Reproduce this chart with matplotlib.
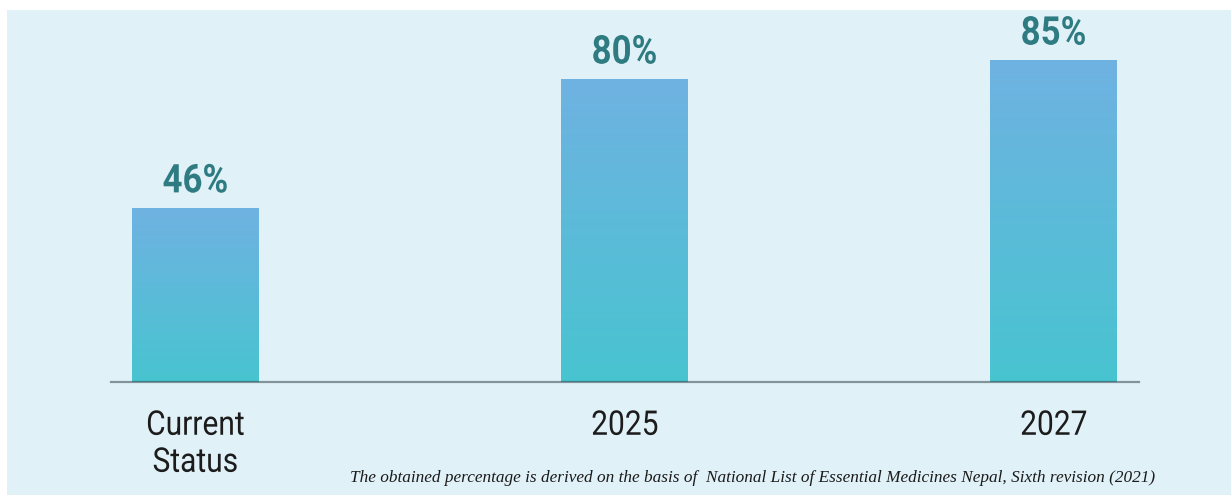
import numpy as np
import matplotlib
matplotlib.use("Agg")
import matplotlib.pyplot as plt
import matplotlib.patheffects as pe
from matplotlib.patches import Rectangle
from matplotlib.transforms import Affine2D
from matplotlib.colors import LinearSegmentedColormap

# Data
categories = ["Current\nStatus", "2025", "2027"]
values = [46, 80, 85]
value_labels = ["46%", "80%", "85%"]
note = ("The obtained percentage is derived on the basis of  National List of "
        "Essential Medicines Nepal, Sixth revision (2021)")

PANEL = "#e1f1f8"
TOP = "#6fb2e2"
BOTTOM = "#48c4d0"
LABEL = "#2f7b82"


class Condense(pe.AbstractPathEffect):
    """Squeeze glyphs horizontally around their own centre."""

    def __init__(self, sx):
        super().__init__()
        self.sx = sx

    def draw_path(self, renderer, gc, tpath, affine, rgbFace=None):
        bb = tpath.get_extents(affine)
        cx = 0.5 * (bb.x0 + bb.x1)
        squeeze = Affine2D().translate(-cx, 0).scale(self.sx, 1).translate(cx, 0)
        renderer.draw_path(gc, tpath, affine + squeeze, rgbFace)


fig = plt.figure(figsize=(12.31, 4.95), dpi=100)
fig.patch.set_facecolor("white")

# light panel behind the chart
fig.patches.append(Rectangle((7 / 1231, 0), 1 - 7 / 1231, 1 - 10 / 495,
                             transform=fig.transFigure, facecolor=PANEL,
                             edgecolor="none", zorder=-5))

ax = fig.add_axes([111 / 1231, 113 / 495, 1028 / 1231, 379 / 495])
ax.set_facecolor("none")

x = np.arange(len(categories))
width = 0.296
bars = ax.bar(x, values, width=width, color="none", edgecolor="none", zorder=2)

cmap = LinearSegmentedColormap.from_list("bar", [BOTTOM, TOP])
grad = np.linspace(0, 1, 256).reshape(-1, 1)
for b in bars:
    x0, y0 = b.get_x(), b.get_y()
    im = ax.imshow(grad, cmap=cmap, origin="lower", aspect="auto",
                   extent=[x0, x0 + b.get_width(), y0, y0 + b.get_height()],
                   zorder=2, interpolation="bicubic")
    im.set_clip_path(b)

for b, lab in zip(bars, value_labels):
    ax.annotate(lab, (b.get_x() + b.get_width() / 2, b.get_height()),
                xytext=(0, 11), textcoords="offset points",
                ha="center", va="baseline", fontsize=28.5, fontweight="bold",
                family="Roboto", color=LABEL,
                path_effects=[Condense(0.88)])

ax.set_xlim(-0.197, 2.199)
ax.set_ylim(0, 100)
ax.autoscale(False)

ax.axhline(0, color="#34474e", alpha=0.55, lw=1.6, zorder=3, clip_on=False)

ax.set_xticks(x)
ax.set_xticklabels(categories, fontsize=24.5, family="Roboto",
                   color="#1c1c1c", linespacing=1.2)
for t in ax.get_xticklabels():
    t.set_path_effects([Condense(0.88)])
ax.tick_params(axis="x", length=0, pad=20)
ax.set_yticks([])
for s in ax.spines.values():
    s.set_visible(False)

fig.text(1155 / 1231, 1 - 482 / 495, note, ha="right", va="baseline",
         fontsize=12.4, style="italic", family="Liberation Serif",
         color="#1a1a1a")

fig.savefig("out.png", dpi=100, facecolor=fig.get_facecolor())
